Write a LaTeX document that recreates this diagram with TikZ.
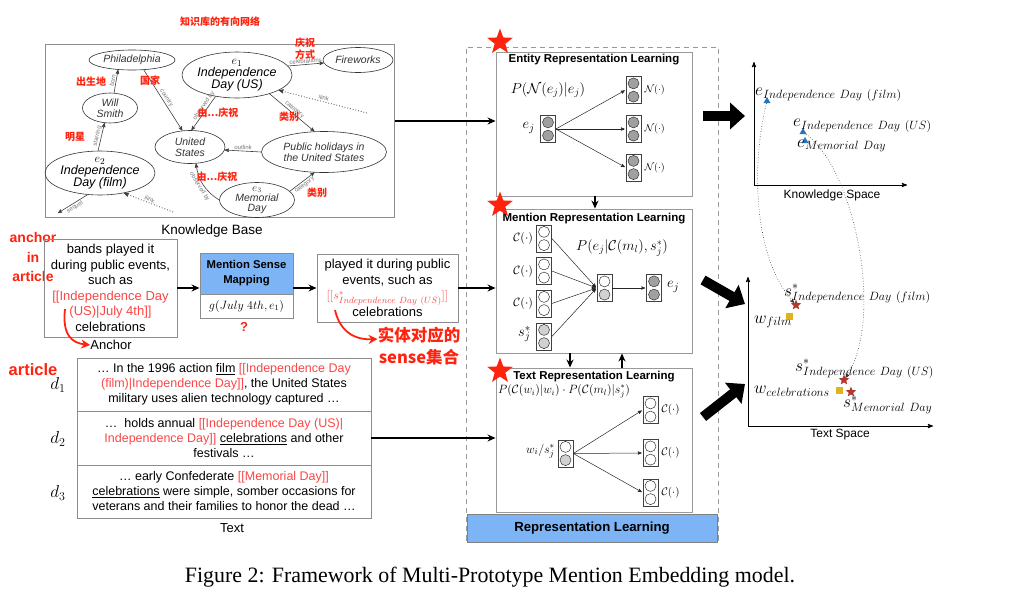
\documentclass[tikz,border=0pt]{standalone}
\usepackage{fontspec}
\setmainfont{Liberation Sans}
\newfontfamily\capfont{Liberation Serif}
\newfontfamily\cjk{Noto Sans CJK SC}
\usetikzlibrary{arrows,arrows.meta,positioning,shapes.geometric}

\definecolor{redlbl}{RGB}{255,35,15}
\definecolor{redtxt}{RGB}{250,70,70}
\definecolor{headblue}{RGB}{125,180,245}
\definecolor{cellgray}{RGB}{160,160,160}
\definecolor{ptblue}{RGB}{40,115,185}
\definecolor{ptred}{RGB}{180,55,45}
\definecolor{ptyellow}{RGB}{225,180,30}

% one embedding vector: name, position, top fill, bottom fill
\newcommand{\neuron}[4]{%
  \node[vecbox] (#1) at (#2) {};
  \node[cell,fill=#3] (#1t) at ([yshift=6.6pt]#1.center) {};
  \node[cell,fill=#4] (#1b) at ([yshift=-6.6pt]#1.center) {};
}

\begin{document}
\begin{tikzpicture}[x=1pt,y=-1pt,>=stealth',
  kbbox/.style={draw=black!45,line width=0.8pt,inner sep=0pt},
  ent/.style={ellipse,draw=black!80,line width=0.6pt,inner sep=0pt},
  enttxt/.style={font=\itshape\fontsize{10.5}{11}\selectfont,align=center,text=black!80,inner sep=0pt},
  bigtxt/.style={font=\itshape\fontsize{12.5}{12}\selectfont,align=center,inner sep=0pt},
  kbedge/.style={->,black!75,line width=0.6pt},
  ilink/.style={->,black!75,dotted,line width=0.8pt},
  elbl/.style={font=\fontsize{6}{6}\selectfont,text=black!55,sloped,inner sep=1pt},
  cnlbl/.style={font=\cjk\bfseries\fontsize{10}{12}\selectfont,text=redlbl,align=center,inner sep=0pt},
  redlbl/.style={font=\bfseries\fontsize{14}{19.5}\selectfont,text=redlbl,align=center,inner sep=0pt},
  lbl/.style={font=\fontsize{13}{15}\selectfont,inner sep=0pt},
  txtbox/.style={draw=black!45,line width=0.9pt,align=center,inner sep=0pt,font=\fontsize{13}{15.5}\selectfont},
  doctxt/.style={draw=black!45,line width=0.9pt,align=center,inner sep=0pt,minimum width=294pt,font=\fontsize{12.5}{15}\selectfont},
  learnbox/.style={draw=black!40,line width=0.9pt,minimum width=196pt,minimum height=144pt,inner sep=0pt},
  boxtitle/.style={font=\bfseries\fontsize{11.5}{12}\selectfont,inner sep=0pt},
  vecbox/.style={draw=black!75,fill=white,line width=0.7pt,minimum width=15pt,minimum height=27pt,inner sep=0pt},
  cell/.style={circle,draw=black!80,line width=0.5pt,minimum size=11pt,inner sep=0pt},
  netarrow/.style={->,black!85,line width=0.5pt,shorten >=1pt},
  flow/.style={-{Stealth[length=8pt,width=7pt]},line width=1.3pt},
  redarrow/.style={-{Stealth[length=9pt,width=9pt]},line width=1.8pt,draw=redlbl},
  bigarrow/.style={line width=10pt,-{Triangle[length=15pt,width=26pt]}},
  bigstar/.style={star,star points=5,star point ratio=2.4,fill=redlbl,inner sep=0pt,minimum size=27pt},
  tri/.style={regular polygon,regular polygon sides=3,fill=ptblue,inner sep=0pt,minimum size=8pt},
  ptstar/.style={star,star points=5,star point ratio=2.3,fill=ptred,inner sep=0pt,minimum size=11pt},
  sq/.style={fill=ptyellow,minimum size=7pt,inner sep=0pt},
  dcurve/.style={->,dotted,line width=0.6pt,black!80},
  mathlbl/.style={font=\fontsize{14}{14}\selectfont,inner sep=0pt},
  spacelbl/.style={font=\fontsize{16.8}{16.8}\selectfont,inner sep=0pt,anchor=west}]

\useasboundingbox (0,0) rectangle (1010,595);

% knowledge base
\node[cnlbl] (kbtitle) at (220,22) {知识库的有向网络};
\node[kbbox,anchor=north west,minimum width=349pt,minimum height=173pt] (kb) at (45,44) {};
\node[lbl,font=\fontsize{13.5}{15}\selectfont] (kblbl) at (212,231) {Knowledge Base};

\node[ent,minimum width=86pt,minimum height=20pt,label={[enttxt]center:Philadelphia}] (phil) at (132,60) {};
\node[ent,minimum width=55pt,minimum height=30pt,label={[enttxt]center:{Will\\Smith}}] (will) at (110,108) {};
\node[ent,minimum width=110pt,minimum height=46pt,label={[bigtxt]center:{$e_1$\\Independence\\Day (US)}}] (ind) at (237,75) {};
\node[ent,minimum width=70pt,minimum height=25pt,label={[enttxt]center:Fireworks}] (fire) at (358,60) {};
\node[ent,minimum width=110pt,minimum height=44pt,label={[bigtxt]center:{$e_2$\\Independence\\Day (film)}}] (film) at (100,173) {};
\node[ent,minimum width=70pt,minimum height=33pt,label={[enttxt]center:{United\\States}}] (usa) at (190,147) {};
\node[ent,minimum width=125pt,minimum height=41pt,label={[enttxt]center:{Public holidays in\\the United States}}] (pub) at (324,152) {};
\node[ent,minimum width=75pt,minimum height=35pt,label={[enttxt,font=\itshape\fontsize{10.5}{10}\selectfont]center:{$e_3$\\Memorial\\Day}}] (mem) at (257,200) {};

\coordinate (ilinkA) at (367,113);
\coordinate (ilinkB) at (173,212);
\coordinate (seqA) at (58,213);

\path[kbedge] (will.75) edge node[elbl,above] {born} (phil.215)
  (film.95) edge node[elbl,above] {starring} (will.250)
  (phil.320) edge node[elbl,above] {country} (usa.115)
  (ind.225) edge node[elbl,above,pos=0.35] {observed by} (usa.85)
  (ind.10) edge node[elbl,above] {celebrations} (fire.185)
  (ind.330) edge node[elbl,above] {category} (pub.115)
  (pub.180) edge node[elbl,above] {outlink} (usa.355)
  (mem.180) edge[bend left=25] node[elbl,below] {observed by} (usa.290)
  (mem.15) edge node[elbl,below] {category} (pub.245)
  (film.240) edge node[elbl,below] {sequel} (seqA);
\draw[ilink] (ilinkA) -- node[elbl,above] {ilink} (ind.340);
\draw[ilink] (ilinkB) -- node[elbl,above] {ilink} (film.320);

\node[cnlbl] (cnborn) at (91,82) {出生地};
\node[cnlbl] (cncountry) at (150,81) {国家};
\node[cnlbl] (cnway) at (305,49) {庆祝\\方式};
\node[cnlbl] (cnobs) at (218,113) {由...庆祝};
\node[cnlbl] (cncat) at (289,117) {类别};
\node[cnlbl] (cnstar) at (75,137) {明星};
\node[cnlbl] (cnobsb) at (217,177) {由...庆祝};
\node[cnlbl] (cncatb) at (317,193) {类别};

% anchor and sense mapping
\node[redlbl] (anchorin) at (33,257) {anchor\\in\\article};
\node[txtbox,minimum width=133pt,minimum height=98pt] (anchorbox) at (110.5,288)
  {bands played it\\during public events,\\such as\\{\color{redtxt}[[Independence Day}\\{\color{redtxt}(US)|July 4th]]}\\celebrations};
\node[lbl] (anchorlbl) at (111,345) {Anchor};
\coordinate (anchA) at (65,309);
\draw[redarrow] (anchA) .. controls (62,335) and (72,343) .. (anchorlbl.west);

\node[draw=black!45,line width=0.9pt,fill=headblue,minimum width=93pt,minimum height=41pt,inner sep=0pt,align=center,
  font=\bfseries\fontsize{11.3}{15}\selectfont] (msmhead) at (246.5,273.5) {Mention Sense\\Mapping};
\node[draw=black!45,line width=0.9pt,minimum width=93pt,minimum height=24pt,inner sep=0pt,
  font=\fontsize{12}{12}\selectfont] (msmbody) at (246.5,306) {$g(July\ 4th, e_1)$};
\node[redlbl,font=\bfseries\fontsize{13}{13}\selectfont] (qmark) at (244,327) {?};

\node[txtbox,minimum width=141pt,minimum height=68pt] (sensebox) at (387.5,288)
  {played it during public\\events, such as\\{\color{redtxt}$[[s^*_{Independence\ Day\ (US)}]]$}\\celebrations};
\node[redlbl,font=\cjk\bfseries\fontsize{16.5}{22}\selectfont] (senseset) at (419,346) {实体对应的\\sense集合};
\coordinate (senseA) at (335,310);
\draw[redarrow] (senseA) .. controls (340,332) and (355,340) .. (senseset.west |- 0,339);

\draw[flow] (anchorbox.east) -- (anchorbox.east -| msmhead.west);
\draw[flow] (msmhead.east |- sensebox.west) -- (sensebox.west);

% text documents
\node[redlbl,font=\bfseries\fontsize{16.5}{18}\selectfont] (articlelbl) at (33,370) {article};
\node[doctxt,minimum height=53pt] (doc1) at (224,384.5)
  {… In the 1996 action \underline{film} {\color{redtxt}[[Independence Day}\\{\color{redtxt}(film)|Independence Day]]}, the United States\\military uses alien technology captured …};
\node[doctxt,minimum height=54pt] (doc2) at (224,438)
  {…\ \ holds annual {\color{redtxt}[[Independence Day (US)|}\\{\color{redtxt}Independence Day]]} \underline{celebrations} and other\\festivals …};
\node[doctxt,minimum height=53pt] (doc3) at (224,491.5)
  {… early Confederate {\color{redtxt}[[Memorial Day]]}\\\underline{celebrations} were simple, somber occasions for\\veterans and their families to honor the dead …};
\node[mathlbl,font=\fontsize{17}{17}\selectfont] (d1) at (58,385) {$d_1$};
\node[mathlbl,font=\fontsize{17}{17}\selectfont] (d2) at (58,439) {$d_2$};
\node[mathlbl,font=\fontsize{17}{17}\selectfont] (d3) at (58,493) {$d_3$};
\node[lbl] (textlbl) at (232,528) {Text};

% representation learning
\node[draw=black!40,dash pattern=on 5pt off 4pt,line width=0.8pt,minimum width=252pt,minimum height=493pt,inner sep=0pt] (rlframe) at (592,293.5) {};
\node[draw=black!50,line width=0.8pt,fill=headblue,minimum width=250pt,minimum height=28pt,inner sep=0pt,
  font=\bfseries\fontsize{13.2}{14}\selectfont] (rlbar) at (592,528) {Representation Learning};

% entity
\node[learnbox] (entbox) at (594,124) {};
\node[boxtitle] (enttitle) at (594,60) {Entity Representation Learning};
\node[mathlbl] (entp) at (548,90) {$P(\mathcal{N}(e_j)|e_j)$};
\neuron{entin}{548,129}{cellgray}{cellgray}
\neuron{ento1}{633.5,90}{cellgray}{cellgray}
\neuron{ento2}{633.5,129}{cellgray}{cellgray}
\neuron{ento3}{633.5,167.5}{cellgray}{cellgray}
\node[mathlbl,font=\fontsize{15}{15}\selectfont,anchor=east] (entej) at (535,128) {$e_j$};
\foreach \o in {ento1,ento2,ento3}{
  \node[mathlbl,font=\fontsize{10}{10}\selectfont,anchor=west] (\o lbl) at ([xshift=3pt]\o.east) {$\mathcal{N}(\cdot)$};
  \draw[netarrow] (entin.east) -- (\o.west);
}

% mention
\node[learnbox] (menbox) at (594,281) {};
\node[boxtitle] (mentitle) at (594,219) {Mention Representation Learning};
\neuron{menc1}{544,238.5}{white}{white}
\neuron{menc2}{544,271}{white}{white}
\neuron{menc3}{544,303.5}{white}{white}
\neuron{mens}{544,336.5}{black!18}{black!18}
\neuron{menmid}{604.5,288}{white}{black!18}
\neuron{menout}{654,288}{cellgray}{cellgray}
\foreach \c in {menc1,menc2,menc3}{
  \node[mathlbl,font=\fontsize{12}{12}\selectfont,anchor=east] (\c lbl) at ([xshift=-3pt]\c.west) {$\mathcal{C}(\cdot)$};
}
\foreach \c in {menc1,menc2,menc3,mens}{
  \draw[netarrow] (\c.east) -- (menmid.west);
}
\node[mathlbl,font=\fontsize{15}{15}\selectfont,anchor=east] (mensl) at (531,334) {$s_j^*$};
\draw[netarrow] (menmid.east) -- (menout.west);
\node[mathlbl,font=\fontsize{15}{15}\selectfont,anchor=west] (menej) at (667,287) {$e_j$};
\node[mathlbl] (menp) at (622,248) {$P(e_j|\mathcal{C}(m_l),s_j^*)$};

% text
\node[learnbox] (txtlearn) at (594,440) {};
\node[boxtitle] (txttitle) at (594,377) {Text Representation Learning};
\node[mathlbl,font=\fontsize{12}{12}\selectfont,anchor=west] (txtp) at (498,391) {$P(\mathcal{C}(w_i)|w_i)\cdot P(\mathcal{C}(m_l)|s_j^*)$};
\neuron{txtin}{565.5,453.5}{white}{black!18}
\neuron{txto1}{650.5,410}{white}{white}
\neuron{txto2}{650.5,453}{white}{white}
\neuron{txto3}{650.5,492.5}{white}{white}
\node[mathlbl,font=\fontsize{13}{13}\selectfont,anchor=east] (txtwl) at (555,451) {$w_i/s_j^*$};
\foreach \o in {txto1,txto2,txto3}{
  \node[mathlbl,font=\fontsize{11}{11}\selectfont,anchor=west] (\o lbl) at ([xshift=3pt]\o.east) {$\mathcal{C}(\cdot)$};
  \draw[netarrow] (txtin.east) -- (\o.west);
}

\node[bigstar] (star1) at (500,42) {};
\node[bigstar] (star2) at (500,205) {};
\node[bigstar] (star3) at (500,371) {};

\draw[flow] (kb.east |- 0,121) -- (entbox.west |- 0,121);
\draw[flow] (sensebox.east) -- (sensebox.east -| menbox.west);
\draw[flow] (doc2.east) -- (doc2.east -| txtlearn.west);
\draw[flow] (entbox.south -| 595,0) -- (menbox.north -| 595,0);
\draw[flow] (menbox.south -| 570,0) -- (txtlearn.north -| 570,0);
\draw[flow] (txtlearn.north -| 622,0) -- (menbox.south -| 622,0);

% spaces
\coordinate (bigA1) at (703,116); \coordinate (bigA2) at (745,116);
\coordinate (bigB1) at (703,280); \coordinate (bigB2) at (745,304);
\coordinate (bigC1) at (703,417); \coordinate (bigC2) at (745,384);
\draw[bigarrow] (bigA1) -- (bigA2);
\draw[bigarrow] (bigB1) -- (bigB2);
\draw[bigarrow] (bigC1) -- (bigC2);

\coordinate (ks0) at (754,185); \coordinate (ksy) at (754,62); \coordinate (ksx) at (907,185);
\draw[<->,line width=0.9pt] (ksy) -- (ks0) -- (ksx);
\node[lbl,font=\fontsize{12}{12}\selectfont] (kslbl) at (832,195) {Knowledge Space};
\coordinate (ts0) at (748,426); \coordinate (tsy) at (748,277); \coordinate (tsx) at (933,426);
\draw[<->,line width=0.9pt] (tsy) -- (ts0) -- (tsx);
\node[lbl,font=\fontsize{12}{12}\selectfont] (tslbl) at (840,435) {Text Space};

\node[tri] (kt1) at (767,101) {};
\node[tri] (kt2) at (803,132) {};
\node[tri] (kt3) at (805,141) {};
\node[spacelbl] (ke1) at (755,95) {$e_{Independence\ Day\ (film)}$};
\node[spacelbl] (ke2) at (793,126) {$e_{Independence\ Day\ (US)}$};
\node[spacelbl] (ke3) at (797,146) {$e_{Memorial\ Day}$};

\node[ptstar] (ts1) at (796,305) {};
\node[ptstar] (ts2) at (844,380) {};
\node[ptstar] (ts3) at (851,392) {};
\node[sq] (tw1) at (789,316) {};
\node[sq] (tw2) at (839,390) {};
\node[spacelbl] (sl1) at (784,294) {$s^*_{Independence\ Day\ (film)}$};
\node[spacelbl] (wl1) at (754,322) {$w_{film}$};
\node[spacelbl] (sl2) at (795,369) {$s^*_{Independence\ Day\ (US)}$};
\node[spacelbl] (wl2) at (754,391) {$w_{celebrations}$};
\node[spacelbl] (sl3) at (843,405) {$s^*_{Memorial\ Day}$};

\draw[dcurve] (kt1) .. controls (750,170) and (755,260) .. (ts1);
\draw[dcurve] (kt2) .. controls (855,170) and (885,320) .. (ts2);

% caption
\node[font=\capfont\fontsize{21.9}{24}\selectfont,inner sep=0pt] (caption) at (490,577) {Figure 2: Framework of Multi-Prototype Mention Embedding model.};

\end{tikzpicture}
\end{document}
